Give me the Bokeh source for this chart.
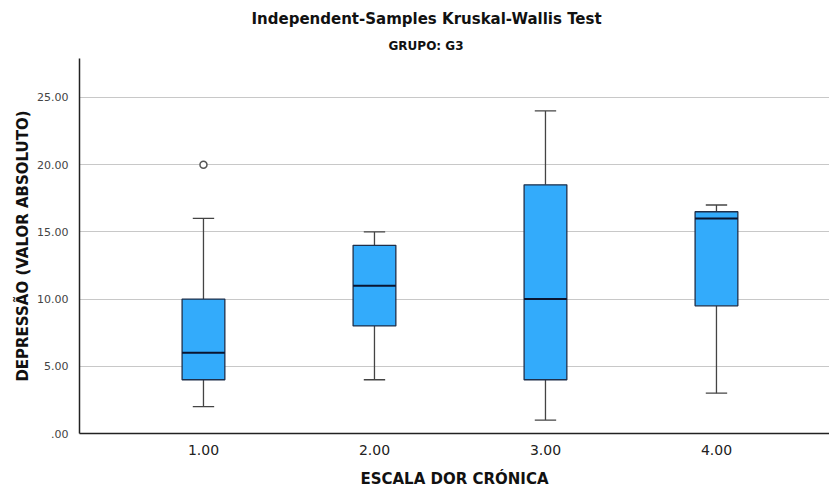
from bokeh.plotting import figure
from bokeh.models import Range1d, FixedTicker, Title, ColumnDataSource
from bokeh.embed import file_html
from bokeh.resources import INLINE

# ---- data ----
groups = [1, 2, 3, 4]
group_labels = ["1.00", "2.00", "3.00", "4.00"]
whisker_low = [2, 4, 1, 3]
q1 = [4, 8, 4, 9.5]
median = [6, 11, 10, 16]
q3 = [10, 14, 18.5, 16.5]
whisker_high = [16, 15, 24, 17]
outlier_group = [1]
outlier_value = [20]
y_ticks = [0, 5, 10, 15, 20, 25]
y_tick_labels = [".00", "5.00", "10.00", "15.00", "20.00", "25.00"]

title_text = "Independent-Samples Kruskal-Wallis Test"
subtitle_text = "GRUPO: G3"
x_label = "ESCALA DOR CRÓNICA"
y_label = "DEPRESSÃO (VALOR ABSOLUTO)"

FONT = "DejaVu Sans"
box_w = 0.25
cap_w = 0.125

p = figure(width=829, height=491, output_backend="svg", toolbar_location=None,
           x_range=Range1d(0.275, 4.661), y_range=Range1d(0, 27.9),
           min_border_left=79, min_border_right=0, min_border_top=58, min_border_bottom=58)

# main title on top, subtitle added below it (left-aligned with offsets to match placement)
p.title.text = title_text
p.title.align = "left"
p.title.offset = 172
p.title.text_font = FONT
p.title.text_font_size = "15px"
p.title.text_font_style = "bold"
p.title.text_color = "#111111"
p.title.standoff = 6
p.add_layout(Title(text=subtitle_text, align="left", offset=309, text_font=FONT,
                   text_font_size="12px", text_font_style="bold", text_color="#111111",
                   standoff=12), "above")

p.outline_line_color = None
p.background_fill_color = "white"
p.border_fill_color = "white"

# grid
p.xgrid.grid_line_color = None
p.ygrid.grid_line_color = "#c8c8c8"
p.ygrid.grid_line_width = 1.2
p.yaxis.ticker = FixedTicker(ticks=y_ticks)
p.ygrid.ticker = FixedTicker(ticks=y_ticks[1:])
p.yaxis.major_label_overrides = {t: l for t, l in zip(y_ticks, y_tick_labels)}
p.xaxis.ticker = FixedTicker(ticks=groups)
p.xaxis.major_label_overrides = {g: l for g, l in zip(groups, group_labels)}

for ax in (p.xaxis, p.yaxis):
    ax.axis_line_color = "#222222"
    ax.axis_line_width = 1.5
    ax.major_tick_line_color = None
    ax.minor_tick_line_color = None
    ax.major_label_text_font = FONT
    ax.axis_label_text_font = FONT
    ax.axis_label_text_font_style = "bold"
    ax.axis_label_text_color = "#111111"

p.yaxis.major_label_text_font_size = "11px"
p.yaxis.major_label_text_color = "#444444"
p.yaxis.major_label_standoff = 5
p.yaxis.axis_label = y_label
p.yaxis.axis_label_text_font_size = "15px"
p.yaxis.axis_label_standoff = 2

p.xaxis.major_label_text_font_size = "14px"
p.xaxis.major_label_text_color = "#222222"
p.xaxis.major_label_standoff = 5
p.xaxis.axis_label = x_label
p.xaxis.axis_label_text_font_size = "15px"
p.xaxis.axis_label_standoff = 12

src = ColumnDataSource(dict(x=groups, lo=whisker_low, q1=q1, med=median, q3=q3, hi=whisker_high,
                            cl=[g - cap_w / 2 for g in groups], cr=[g + cap_w / 2 for g in groups],
                            bl=[g - box_w / 2 for g in groups], br=[g + box_w / 2 for g in groups]))

# whiskers
p.segment(x0="x", y0="q3", x1="x", y1="hi", source=src, line_color="#444444", line_width=1.3)
p.segment(x0="x", y0="lo", x1="x", y1="q1", source=src, line_color="#444444", line_width=1.3)
p.segment(x0="cl", y0="hi", x1="cr", y1="hi", source=src, line_color="#444444", line_width=1.3)
p.segment(x0="cl", y0="lo", x1="cr", y1="lo", source=src, line_color="#444444", line_width=1.3)
# boxes
p.vbar(x="x", width=box_w, bottom="q1", top="q3", source=src,
       fill_color="#33abfb", line_color="#1e2f4a", line_width=1.3)
# medians
p.segment(x0="bl", y0="med", x1="br", y1="med", source=src, line_color="#0a1530", line_width=2)
# outliers
p.scatter(x=outlier_group, y=outlier_value, marker="circle", size=7,
          fill_color="white", line_color="#555555", line_width=1.5)

open("out.html", "w").write(file_html(p, INLINE))
